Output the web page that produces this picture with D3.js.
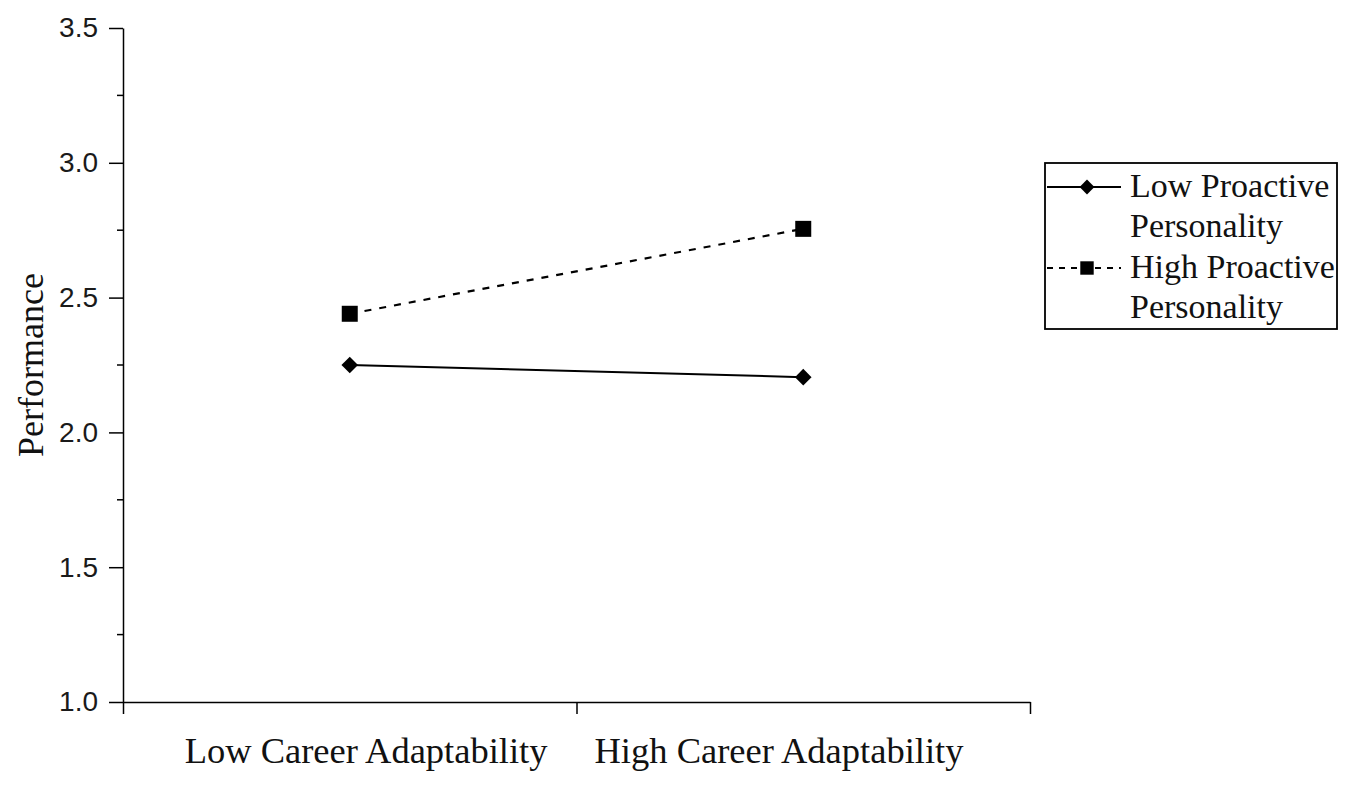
<!DOCTYPE html>
<html>
<head>
<meta charset="utf-8">
<script src="https://cdn.jsdelivr.net/npm/d3@7"></script>
<style>
  body { margin: 0; background: #fff; }
  #graphicContainer { width: 1350px; height: 786px; }
</style>
</head>
<body>
<div id="graphicContainer"></div>
<script>

// categories on the x axis
var categories = ["Low Career Adaptability", "High Career Adaptability"];

// series values
var seriesNames = [["Low Proactive", "Personality"], ["High Proactive", "Personality"]];
var lowProactive = [2.25, 2.205];
var highProactive = [2.44, 2.755];

// y axis ticks
var yTicks = [1.0, 1.5, 2.0, 2.5, 3.0, 3.5];
var yMinorTicks = [1.25, 1.75, 2.25, 2.75, 3.25];

function draw_chart() {

    var width = 1350, height = 786;
    var margin = {top: 28, right: 320, bottom: 84, left: 123};
    var serif = "'Liberation Serif', 'Times New Roman', serif";

    d3.select("#graphicContainer svg").remove();

    var svg = d3.select("#graphicContainer").append("svg")
        .attr("width", width)
        .attr("height", height);

    // scales

    var x = d3.scaleBand()
        .domain(categories)
        .range([margin.left, width - margin.right]);

    var y = d3.scaleLinear()
        .domain([1.0, 3.5])
        .range([height - margin.bottom, margin.top]);

    // y axis with major and minor ticks

    var yAxis = svg.append("g")
        .attr("transform", `translate(${margin.left},0)`)
        .call(d3.axisLeft(y).tickValues(yTicks).tickFormat(d3.format(".1f")).tickSize(14).tickSizeOuter(0))
        .call(g => g.selectAll("text")
            .attr("font-family", "'Liberation Sans', Arial, sans-serif")
            .attr("font-size", 28)
            .attr("fill", "#1a1a1a")
            .attr("x", -25));

    yAxis.selectAll(".tick line").attr("stroke-width", 1.5);
    yAxis.select(".domain").attr("stroke-width", 1.5);

    svg.append("g")
        .attr("transform", `translate(${margin.left},0)`)
        .selectAll("line")
        .data(yMinorTicks)
        .enter()
        .append("line")
        .attr("x1", -6)
        .attr("x2", 0)
        .attr("y1", d => y(d))
        .attr("y2", d => y(d))
        .attr("stroke", "#000")
        .attr("stroke-width", 1.5);

    // x axis: ticks at the band edges

    var xEdges = d3.scaleLinear()
        .domain([0, categories.length])
        .range([margin.left, width - margin.right]);

    svg.append("g")
        .attr("transform", `translate(0,${height - margin.bottom})`)
        .call(d3.axisBottom(xEdges).tickValues(d3.range(categories.length + 1)).tickFormat("").tickSize(12).tickSizeOuter(0))
        .call(g => g.selectAll("line").attr("stroke-width", 1.5))
        .call(g => g.select(".domain").attr("stroke-width", 1.5));

    // category labels sit either side of the middle tick

    var mid = xEdges(1);

    svg.append("g")
        .selectAll("text")
        .data(categories)
        .enter()
        .append("text")
        .attr("x", (d, i) => i == 0 ? mid - 29 : mid + 18)
        .attr("y", 763)
        .attr("text-anchor", (d, i) => i == 0 ? "end" : "start")
        .attr("font-family", serif)
        .attr("font-size", 36.5)
        .attr("fill", "#111")
        .text(d => d);

    // y axis title

    svg.append("text")
        .attr("transform", `translate(43,${(y(1.0) + y(3.5)) / 2}) rotate(-90)`)
        .attr("text-anchor", "middle")
        .attr("font-family", serif)
        .attr("font-size", 36)
        .attr("fill", "#111")
        .text("Performance");

    // lines

    var cx = d => x(d) + x.bandwidth() / 2;

    var line = d3.line()
        .x(d => cx(d.cat))
        .y(d => y(d.value));

    var lowData = categories.map((c, i) => ({cat: c, value: lowProactive[i]}));
    var highData = categories.map((c, i) => ({cat: c, value: highProactive[i]}));

    svg.append("path")
        .datum(lowData)
        .attr("d", line)
        .attr("fill", "none")
        .attr("stroke", "#000")
        .attr("stroke-width", 2);

    svg.append("path")
        .datum(highData)
        .attr("d", line)
        .attr("fill", "none")
        .attr("stroke", "#000")
        .attr("stroke-width", 2.2)
        .attr("stroke-dasharray", "7,8");

    var diamond = d3.symbol().type(d3.symbolDiamond2).size(175);
    var square = d3.symbol().type(d3.symbolSquare).size(256);

    svg.append("g")
        .selectAll("path")
        .data(lowData)
        .enter()
        .append("path")
        .attr("d", diamond)
        .attr("transform", d => `translate(${cx(d.cat)},${y(d.value)})`)
        .attr("fill", "#000");

    svg.append("g")
        .selectAll("path")
        .data(highData)
        .enter()
        .append("path")
        .attr("d", square)
        .attr("transform", d => `translate(${cx(d.cat)},${y(d.value)})`)
        .attr("fill", "#000");

    // legend

    var legend = svg.append("g")
        .attr("transform", "translate(1045,163)");

    legend.append("rect")
        .attr("width", 292)
        .attr("height", 166)
        .attr("fill", "#fff")
        .attr("stroke", "#000")
        .attr("stroke-width", 1.8);

    var rows = [
        {name: seriesNames[0], symbol: d3.symbol().type(d3.symbolDiamond2).size(140), dash: null, y: 24},
        {name: seriesNames[1], symbol: d3.symbol().type(d3.symbolSquare).size(180), dash: "6,6", y: 105}
    ];

    var item = legend.selectAll("g.item")
        .data(rows)
        .enter()
        .append("g")
        .attr("class", "item")
        .attr("transform", d => `translate(0,${d.y})`);

    item.append("line")
        .attr("x1", 2)
        .attr("x2", 76)
        .attr("stroke", "#000")
        .attr("stroke-width", 1.8)
        .attr("stroke-dasharray", d => d.dash);

    item.append("path")
        .attr("d", d => d.symbol())
        .attr("transform", "translate(42,0)")
        .attr("fill", "#000");

    item.append("text")
        .attr("x", 85)
        .attr("y", 10)
        .attr("font-family", serif)
        .attr("font-size", 34)
        .attr("fill", "#111")
        .text(d => d.name[0]);

    item.append("text")
        .attr("x", 85)
        .attr("y", 50)
        .attr("font-family", serif)
        .attr("font-size", 34)
        .attr("fill", "#111")
        .text(d => d.name[1]);
}

draw_chart();
</script>
</body>
</html>
